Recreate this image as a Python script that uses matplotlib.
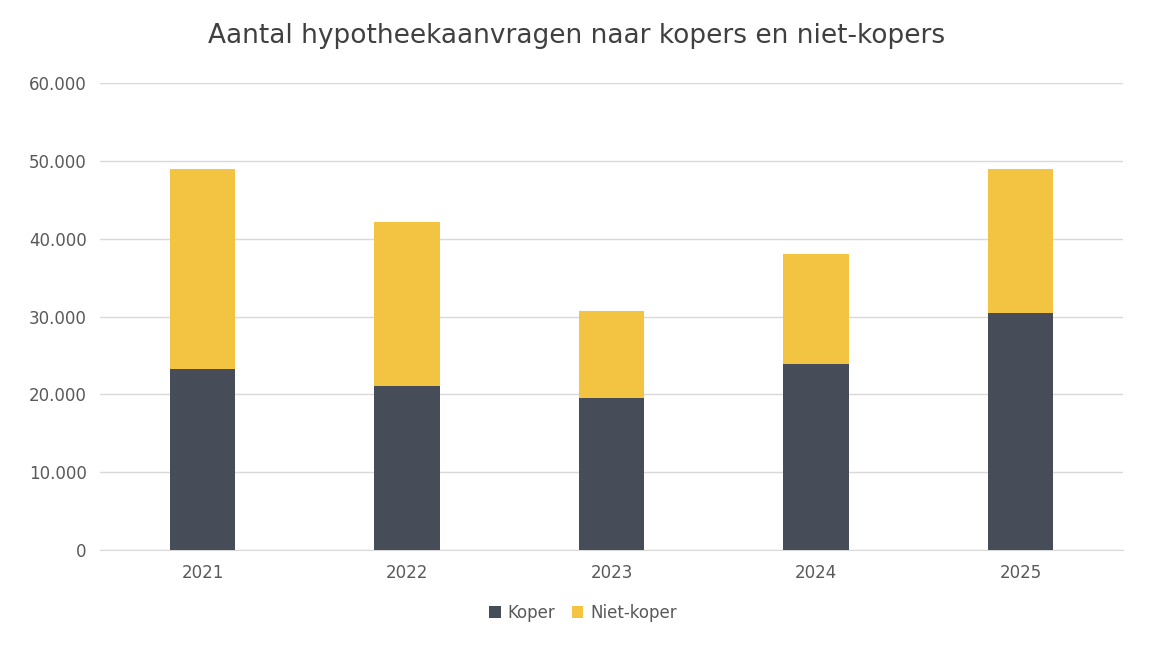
import matplotlib.pyplot as plt
from matplotlib.ticker import FuncFormatter

years = ["2021", "2022", "2023", "2024", "2025"]
koper = [23300, 21100, 19550, 23900, 30450]
niet_koper = [25700, 21100, 11200, 14150, 18550]

dark = "#474c59"
yellow = "#f3c342"

fig = plt.figure(figsize=(11.54, 6.5), dpi=100)
ax = fig.add_axes([0.087, 0.154, 0.886, 0.718])

x = range(len(years))
ax.bar(x, koper, width=0.32, color=dark, label="Koper", zorder=3)
ax.bar(x, niet_koper, width=0.32, bottom=koper, color=yellow, label="Niet-koper", zorder=3)

ax.set_ylim(0, 60000)
ax.set_xlim(-0.5, len(years) - 0.5)
ax.set_yticks(range(0, 60001, 10000))
ax.yaxis.set_major_formatter(FuncFormatter(lambda v, p: f"{int(v):,}".replace(",", ".")))
ax.set_xticks(list(x))
ax.set_xticklabels(years)
ax.grid(axis="y", color="#d9d9d9", linewidth=1, zorder=0)
for s in ["top", "right", "left"]:
    ax.spines[s].set_visible(False)
ax.spines["bottom"].set_color("#d9d9d9")
ax.tick_params(length=0, labelsize=12, colors="#595959", pad=10)

fig.suptitle("Aantal hypotheekaanvragen naar kopers en niet-kopers",
             y=0.965, fontsize=19, color="#404040")
fig.legend(loc="lower center", bbox_to_anchor=(0.505, 0.02), ncol=2, frameon=False,
           fontsize=12, labelcolor="#595959", handlelength=0.7, handleheight=0.7,
           columnspacing=1.0, handletextpad=0.4)

plt.savefig("out.png", dpi=100)
